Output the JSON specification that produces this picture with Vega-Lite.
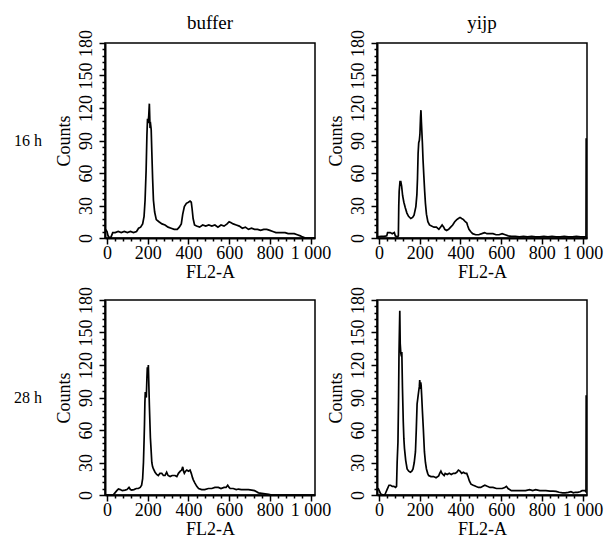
{
  "$schema": "https://vega.github.io/schema/vega-lite/v6.json",
  "padding": {"left": 13, "top": 12, "right": 0, "bottom": 0},
  "background": "white",
  "columns": 3,
  "align": "each",
  "bounds": "flush",
  "spacing": {"row": 62, "column": 62},
  "datasets": {
    "a": [
      {"x": -8, "n": 8}, {"x": 0, "n": 6}, {"x": 5, "n": 2}, {"x": 12, "n": 0}, {"x": 20, "n": 1}, {"x": 28, "n": 5}, {"x": 40, "n": 5}, {"x": 55, "n": 6}, {"x": 70, "n": 5}, {"x": 85, "n": 6}, {"x": 100, "n": 5}, {"x": 115, "n": 6}, {"x": 130, "n": 5}, {"x": 145, "n": 6}, {"x": 155, "n": 9}, {"x": 165, "n": 10}, {"x": 175, "n": 13}, {"x": 182, "n": 20}, {"x": 187, "n": 35}, {"x": 192, "n": 62}, {"x": 196, "n": 95}, {"x": 199, "n": 110}, {"x": 202, "n": 106}, {"x": 205, "n": 113}, {"x": 208, "n": 124}, {"x": 211, "n": 104}, {"x": 214, "n": 105}, {"x": 217, "n": 100}, {"x": 220, "n": 80}, {"x": 224, "n": 55}, {"x": 228, "n": 35}, {"x": 234, "n": 24}, {"x": 242, "n": 17}, {"x": 255, "n": 15}, {"x": 270, "n": 13}, {"x": 285, "n": 12}, {"x": 300, "n": 10}, {"x": 315, "n": 9}, {"x": 330, "n": 8}, {"x": 345, "n": 8}, {"x": 355, "n": 10}, {"x": 365, "n": 13}, {"x": 372, "n": 22}, {"x": 380, "n": 29}, {"x": 390, "n": 32}, {"x": 400, "n": 33}, {"x": 408, "n": 34}, {"x": 414, "n": 33}, {"x": 418, "n": 27}, {"x": 423, "n": 18}, {"x": 430, "n": 12}, {"x": 440, "n": 11}, {"x": 455, "n": 10}, {"x": 470, "n": 12}, {"x": 485, "n": 11}, {"x": 500, "n": 12}, {"x": 515, "n": 11}, {"x": 530, "n": 12}, {"x": 545, "n": 10}, {"x": 560, "n": 12}, {"x": 575, "n": 11}, {"x": 590, "n": 13}, {"x": 600, "n": 15}, {"x": 610, "n": 14}, {"x": 620, "n": 13}, {"x": 635, "n": 12}, {"x": 650, "n": 11}, {"x": 665, "n": 9}, {"x": 680, "n": 10}, {"x": 695, "n": 8}, {"x": 710, "n": 9}, {"x": 725, "n": 8}, {"x": 740, "n": 8}, {"x": 755, "n": 7}, {"x": 770, "n": 8}, {"x": 785, "n": 8}, {"x": 800, "n": 7}, {"x": 815, "n": 6}, {"x": 830, "n": 5}, {"x": 845, "n": 5}, {"x": 860, "n": 5}, {"x": 875, "n": 5}, {"x": 890, "n": 4}, {"x": 905, "n": 4}, {"x": 920, "n": 4}, {"x": 935, "n": 3}, {"x": 950, "n": 2}, {"x": 960, "n": 1}, {"x": 975, "n": 0}, {"x": 990, "n": 0}, {"x": 1005, "n": 0}, {"x": 1020, "n": 0}
    ],
    "b": [
      {"x": -8, "n": 1}, {"x": 10, "n": 1.5}, {"x": 25, "n": 1.5}, {"x": 38, "n": 2}, {"x": 42, "n": 5}, {"x": 55, "n": 5}, {"x": 65, "n": 4}, {"x": 75, "n": 5}, {"x": 80, "n": 2}, {"x": 90, "n": 1}, {"x": 95, "n": 2}, {"x": 97, "n": 30}, {"x": 99, "n": 43}, {"x": 103, "n": 52}, {"x": 107, "n": 52}, {"x": 111, "n": 48}, {"x": 116, "n": 39}, {"x": 122, "n": 33}, {"x": 129, "n": 28}, {"x": 137, "n": 23}, {"x": 145, "n": 20}, {"x": 156, "n": 18}, {"x": 165, "n": 19}, {"x": 172, "n": 21}, {"x": 181, "n": 29}, {"x": 186, "n": 40}, {"x": 189, "n": 55}, {"x": 192, "n": 78}, {"x": 195, "n": 88}, {"x": 198, "n": 90}, {"x": 201, "n": 96}, {"x": 204, "n": 112}, {"x": 206, "n": 118}, {"x": 208, "n": 108}, {"x": 210, "n": 100}, {"x": 213, "n": 88}, {"x": 216, "n": 73}, {"x": 220, "n": 58}, {"x": 224, "n": 44}, {"x": 228, "n": 32}, {"x": 233, "n": 22}, {"x": 240, "n": 15}, {"x": 248, "n": 12}, {"x": 258, "n": 11}, {"x": 270, "n": 10}, {"x": 282, "n": 10}, {"x": 294, "n": 8}, {"x": 302, "n": 10}, {"x": 310, "n": 12}, {"x": 318, "n": 10}, {"x": 323, "n": 8}, {"x": 332, "n": 7}, {"x": 342, "n": 8}, {"x": 352, "n": 10}, {"x": 362, "n": 12}, {"x": 372, "n": 15}, {"x": 382, "n": 17}, {"x": 390, "n": 18}, {"x": 398, "n": 19}, {"x": 406, "n": 18}, {"x": 415, "n": 17}, {"x": 424, "n": 15}, {"x": 431, "n": 14}, {"x": 436, "n": 11}, {"x": 442, "n": 8}, {"x": 450, "n": 6}, {"x": 460, "n": 4}, {"x": 475, "n": 3}, {"x": 490, "n": 3}, {"x": 505, "n": 4}, {"x": 519, "n": 5}, {"x": 530, "n": 4}, {"x": 545, "n": 4}, {"x": 560, "n": 4}, {"x": 575, "n": 3}, {"x": 590, "n": 3}, {"x": 605, "n": 4}, {"x": 620, "n": 3}, {"x": 635, "n": 2}, {"x": 650, "n": 1.5}, {"x": 670, "n": 1.5}, {"x": 690, "n": 1}, {"x": 710, "n": 1.5}, {"x": 730, "n": 1}, {"x": 750, "n": 1.5}, {"x": 770, "n": 1}, {"x": 790, "n": 1}, {"x": 810, "n": 1.5}, {"x": 830, "n": 1}, {"x": 850, "n": 1.5}, {"x": 870, "n": 1}, {"x": 890, "n": 1}, {"x": 910, "n": 1.5}, {"x": 930, "n": 1}, {"x": 950, "n": 1}, {"x": 970, "n": 1.5}, {"x": 990, "n": 1}, {"x": 1010, "n": 1}, {"x": 1017, "n": 1}, {"x": 1018, "n": 92}
    ],
    "c": [
      {"x": -10, "n": 0}, {"x": 10, "n": 0}, {"x": 30, "n": 0}, {"x": 39, "n": 2}, {"x": 48, "n": 4}, {"x": 56, "n": 5.5}, {"x": 65, "n": 5}, {"x": 75, "n": 4}, {"x": 88, "n": 4.5}, {"x": 98, "n": 5}, {"x": 108, "n": 7}, {"x": 115, "n": 5}, {"x": 121, "n": 4.5}, {"x": 132, "n": 5}, {"x": 144, "n": 6}, {"x": 154, "n": 6}, {"x": 163, "n": 7}, {"x": 170, "n": 9}, {"x": 175, "n": 15}, {"x": 179, "n": 30}, {"x": 182, "n": 50}, {"x": 184, "n": 65}, {"x": 186, "n": 85}, {"x": 188, "n": 95}, {"x": 190, "n": 92}, {"x": 193, "n": 90}, {"x": 196, "n": 108}, {"x": 198, "n": 118}, {"x": 201, "n": 112}, {"x": 203, "n": 120}, {"x": 205, "n": 105}, {"x": 208, "n": 83}, {"x": 211, "n": 65}, {"x": 213, "n": 53}, {"x": 217, "n": 40}, {"x": 220, "n": 30}, {"x": 224, "n": 26}, {"x": 228, "n": 24}, {"x": 236, "n": 21}, {"x": 244, "n": 19}, {"x": 252, "n": 18}, {"x": 260, "n": 20}, {"x": 269, "n": 20}, {"x": 277, "n": 18}, {"x": 285, "n": 18}, {"x": 293, "n": 21}, {"x": 300, "n": 18}, {"x": 310, "n": 17}, {"x": 320, "n": 18}, {"x": 334, "n": 18}, {"x": 343, "n": 17}, {"x": 351, "n": 20}, {"x": 360, "n": 22}, {"x": 367, "n": 23}, {"x": 372, "n": 26}, {"x": 376, "n": 22}, {"x": 380, "n": 20}, {"x": 386, "n": 22}, {"x": 392, "n": 23}, {"x": 400, "n": 22}, {"x": 408, "n": 23}, {"x": 414, "n": 20}, {"x": 420, "n": 16}, {"x": 424, "n": 14}, {"x": 432, "n": 11}, {"x": 441, "n": 8}, {"x": 450, "n": 6}, {"x": 465, "n": 5}, {"x": 480, "n": 5}, {"x": 498, "n": 6}, {"x": 515, "n": 6}, {"x": 530, "n": 7}, {"x": 547, "n": 7}, {"x": 560, "n": 6}, {"x": 575, "n": 7}, {"x": 585, "n": 7}, {"x": 593, "n": 9}, {"x": 600, "n": 7}, {"x": 605, "n": 6}, {"x": 620, "n": 6}, {"x": 635, "n": 5}, {"x": 646, "n": 5.5}, {"x": 660, "n": 5}, {"x": 679, "n": 5}, {"x": 695, "n": 5}, {"x": 711, "n": 4.5}, {"x": 725, "n": 4}, {"x": 735, "n": 3}, {"x": 744, "n": 2}, {"x": 760, "n": 1.5}, {"x": 777, "n": 1}, {"x": 795, "n": 0.5}, {"x": 810, "n": 0}, {"x": 850, "n": 0}, {"x": 900, "n": 0}, {"x": 950, "n": 0}, {"x": 1000, "n": 0}, {"x": 1020, "n": 0}
    ],
    "d": [
      {"x": -10, "n": 5}, {"x": -3, "n": 5.6}, {"x": 8, "n": 1}, {"x": 20, "n": 0}, {"x": 28, "n": 0}, {"x": 35, "n": 3}, {"x": 41, "n": 5.6}, {"x": 49, "n": 9}, {"x": 57, "n": 9}, {"x": 65, "n": 8}, {"x": 73, "n": 8}, {"x": 81, "n": 7}, {"x": 86, "n": 8}, {"x": 89, "n": 30}, {"x": 93, "n": 49}, {"x": 96, "n": 90}, {"x": 98, "n": 129}, {"x": 100, "n": 150}, {"x": 102, "n": 170}, {"x": 104, "n": 140}, {"x": 107, "n": 131}, {"x": 110, "n": 128}, {"x": 112, "n": 132}, {"x": 115, "n": 100}, {"x": 119, "n": 68}, {"x": 122, "n": 52}, {"x": 125, "n": 43}, {"x": 131, "n": 32}, {"x": 138, "n": 24}, {"x": 146, "n": 22}, {"x": 154, "n": 21}, {"x": 161, "n": 22}, {"x": 167, "n": 24}, {"x": 173, "n": 30}, {"x": 179, "n": 40}, {"x": 183, "n": 60}, {"x": 187, "n": 84}, {"x": 191, "n": 90}, {"x": 195, "n": 96}, {"x": 198, "n": 100}, {"x": 200, "n": 106}, {"x": 203, "n": 98}, {"x": 205, "n": 104}, {"x": 207, "n": 101}, {"x": 210, "n": 90}, {"x": 213, "n": 78}, {"x": 218, "n": 60}, {"x": 223, "n": 40}, {"x": 228, "n": 30}, {"x": 233, "n": 24}, {"x": 239, "n": 20}, {"x": 244, "n": 18}, {"x": 255, "n": 17}, {"x": 268, "n": 17}, {"x": 280, "n": 16}, {"x": 293, "n": 17.5}, {"x": 298, "n": 20}, {"x": 304, "n": 22}, {"x": 309, "n": 20}, {"x": 314, "n": 19}, {"x": 320, "n": 18}, {"x": 325, "n": 20}, {"x": 335, "n": 19}, {"x": 345, "n": 20}, {"x": 355, "n": 19}, {"x": 365, "n": 20}, {"x": 374, "n": 20}, {"x": 382, "n": 21}, {"x": 390, "n": 23}, {"x": 398, "n": 22}, {"x": 406, "n": 20}, {"x": 415, "n": 21}, {"x": 423, "n": 20}, {"x": 431, "n": 20}, {"x": 437, "n": 17}, {"x": 444, "n": 13}, {"x": 452, "n": 10}, {"x": 463, "n": 9}, {"x": 475, "n": 8}, {"x": 488, "n": 7}, {"x": 500, "n": 7}, {"x": 510, "n": 8}, {"x": 520, "n": 9}, {"x": 532, "n": 8}, {"x": 545, "n": 7}, {"x": 560, "n": 7}, {"x": 577, "n": 6}, {"x": 590, "n": 6}, {"x": 605, "n": 6}, {"x": 618, "n": 7}, {"x": 626, "n": 8}, {"x": 634, "n": 6}, {"x": 650, "n": 4}, {"x": 665, "n": 4}, {"x": 680, "n": 4}, {"x": 695, "n": 4}, {"x": 707, "n": 4}, {"x": 720, "n": 4}, {"x": 740, "n": 5}, {"x": 755, "n": 4}, {"x": 770, "n": 5}, {"x": 790, "n": 4}, {"x": 805, "n": 4}, {"x": 820, "n": 4}, {"x": 840, "n": 3.5}, {"x": 855, "n": 3.5}, {"x": 870, "n": 3.4}, {"x": 885, "n": 2.5}, {"x": 902, "n": 2}, {"x": 915, "n": 2}, {"x": 930, "n": 2.5}, {"x": 943, "n": 3}, {"x": 955, "n": 2}, {"x": 965, "n": 2.5}, {"x": 976, "n": 2.5}, {"x": 988, "n": 3}, {"x": 998, "n": 4}, {"x": 1012, "n": 4}, {"x": 1017, "n": 3}, {"x": 1018, "n": 92}
    ]
  },
  "concat": [
    {
      "width": 30, "height": 195, "view": {"stroke": null},
      "data": {"values": [{"t": "16 h"}]},
      "mark": {"type": "text", "font": "Liberation Serif", "fontSize": 16, "color": "black"},
      "encoding": {"text": {"field": "t"}}
    },
    {
      "width": 210, "height": 195,
      "title": {"text": "buffer"},
      "data": {"name": "a"},
      "mark": {"type": "line", "color": "black", "strokeWidth": 1.7},
      "encoding": {
        "x": {"field": "x", "type": "quantitative", "scale": {"domain": [-10, 1022], "nice": false, "zero": false},
              "axis": {"values": [0,40,80,120,160,200,240,280,320,360,400,440,480,520,560,600,640,680,720,760,800,840,880,920,960,1000], "title": "FL2-A", "labelExpr": "datum.value % 200 === 0 ? (datum.value === 1000 ? '1 000' : datum.label) : ''", "tickSize": {"condition": {"test": "datum.value % 200 === 0", "value": 6}, "value": 3}, "labelPadding": 0, "labelFlush": false, "labelOverlap": false, "titlePadding": 1, "labelFont": "Liberation Serif", "labelFontSize": 18, "titleFont": "Liberation Serif", "titleFontSize": 18}},
        "y": {"field": "n", "type": "quantitative", "scale": {"domain": [0, 180], "nice": false},
              "axis": {"values": [0,6,12,18,24,30,36,42,48,54,60,66,72,78,84,90,96,102,108,114,120,126,132,138,144,150,156,162,168,174,180], "title": "Counts", "labelExpr": "datum.value % 30 === 0 ? datum.label : ''", "labelAngle": -90, "tickSize": {"condition": {"test": "datum.value % 30 === 0", "value": 6}, "value": 3}, "labelPadding": 4, "labelOverlap": false, "titlePadding": 4, "labelFont": "Liberation Serif", "labelFontSize": 18, "titleFont": "Liberation Serif", "titleFontSize": 18}}
      }
    },
    {
      "width": 210, "height": 195,
      "title": {"text": "yijp"},
      "data": {"name": "b"},
      "mark": {"type": "line", "color": "black", "strokeWidth": 1.7},
      "encoding": {
        "x": {"field": "x", "type": "quantitative", "scale": {"domain": [-10, 1022], "nice": false, "zero": false},
              "axis": {"values": [0,40,80,120,160,200,240,280,320,360,400,440,480,520,560,600,640,680,720,760,800,840,880,920,960,1000], "title": "FL2-A", "labelExpr": "datum.value % 200 === 0 ? (datum.value === 1000 ? '1 000' : datum.label) : ''", "tickSize": {"condition": {"test": "datum.value % 200 === 0", "value": 6}, "value": 3}, "labelPadding": 0, "labelFlush": false, "labelOverlap": false, "titlePadding": 1, "labelFont": "Liberation Serif", "labelFontSize": 18, "titleFont": "Liberation Serif", "titleFontSize": 18}},
        "y": {"field": "n", "type": "quantitative", "scale": {"domain": [0, 180], "nice": false},
              "axis": {"values": [0,6,12,18,24,30,36,42,48,54,60,66,72,78,84,90,96,102,108,114,120,126,132,138,144,150,156,162,168,174,180], "title": "Counts", "labelExpr": "datum.value % 30 === 0 ? datum.label : ''", "labelAngle": -90, "tickSize": {"condition": {"test": "datum.value % 30 === 0", "value": 6}, "value": 3}, "labelPadding": 4, "labelOverlap": false, "titlePadding": 4, "labelFont": "Liberation Serif", "labelFontSize": 18, "titleFont": "Liberation Serif", "titleFontSize": 18}}
      }
    },
    {
      "width": 30, "height": 195, "view": {"stroke": null},
      "data": {"values": [{"t": "28 h"}]},
      "mark": {"type": "text", "font": "Liberation Serif", "fontSize": 16, "color": "black"},
      "encoding": {"text": {"field": "t"}}
    },
    {
      "width": 210, "height": 195,
      "data": {"name": "c"},
      "mark": {"type": "line", "color": "black", "strokeWidth": 1.7},
      "encoding": {
        "x": {"field": "x", "type": "quantitative", "scale": {"domain": [-10, 1022], "nice": false, "zero": false},
              "axis": {"values": [0,40,80,120,160,200,240,280,320,360,400,440,480,520,560,600,640,680,720,760,800,840,880,920,960,1000], "title": "FL2-A", "labelExpr": "datum.value % 200 === 0 ? (datum.value === 1000 ? '1 000' : datum.label) : ''", "tickSize": {"condition": {"test": "datum.value % 200 === 0", "value": 6}, "value": 3}, "labelPadding": 0, "labelFlush": false, "labelOverlap": false, "titlePadding": 1, "labelFont": "Liberation Serif", "labelFontSize": 18, "titleFont": "Liberation Serif", "titleFontSize": 18}},
        "y": {"field": "n", "type": "quantitative", "scale": {"domain": [0, 180], "nice": false},
              "axis": {"values": [0,6,12,18,24,30,36,42,48,54,60,66,72,78,84,90,96,102,108,114,120,126,132,138,144,150,156,162,168,174,180], "title": "Counts", "labelExpr": "datum.value % 30 === 0 ? datum.label : ''", "labelAngle": -90, "tickSize": {"condition": {"test": "datum.value % 30 === 0", "value": 6}, "value": 3}, "labelPadding": 4, "labelOverlap": false, "titlePadding": 4, "labelFont": "Liberation Serif", "labelFontSize": 18, "titleFont": "Liberation Serif", "titleFontSize": 18}}
      }
    },
    {
      "width": 210, "height": 195,
      "data": {"name": "d"},
      "mark": {"type": "line", "color": "black", "strokeWidth": 1.7},
      "encoding": {
        "x": {"field": "x", "type": "quantitative", "scale": {"domain": [-10, 1022], "nice": false, "zero": false},
              "axis": {"values": [0,40,80,120,160,200,240,280,320,360,400,440,480,520,560,600,640,680,720,760,800,840,880,920,960,1000], "title": "FL2-A", "labelExpr": "datum.value % 200 === 0 ? (datum.value === 1000 ? '1 000' : datum.label) : ''", "tickSize": {"condition": {"test": "datum.value % 200 === 0", "value": 6}, "value": 3}, "labelPadding": 0, "labelFlush": false, "labelOverlap": false, "titlePadding": 1, "labelFont": "Liberation Serif", "labelFontSize": 18, "titleFont": "Liberation Serif", "titleFontSize": 18}},
        "y": {"field": "n", "type": "quantitative", "scale": {"domain": [0, 180], "nice": false},
              "axis": {"values": [0,6,12,18,24,30,36,42,48,54,60,66,72,78,84,90,96,102,108,114,120,126,132,138,144,150,156,162,168,174,180], "title": "Counts", "labelExpr": "datum.value % 30 === 0 ? datum.label : ''", "labelAngle": -90, "tickSize": {"condition": {"test": "datum.value % 30 === 0", "value": 6}, "value": 3}, "labelPadding": 4, "labelOverlap": false, "titlePadding": 4, "labelFont": "Liberation Serif", "labelFontSize": 18, "titleFont": "Liberation Serif", "titleFontSize": 18}}
      }
    }
  ],
  "config": {
    "font": "Liberation Serif",
    "view": {"stroke": "black", "strokeWidth": 1.5},
    "axis": {"grid": false, "domainColor": "black", "domainWidth": 2, "tickColor": "black", "tickWidth": 1.5, "labelColor": "black", "titleColor": "black", "titleFontWeight": "normal"},
    "title": {"font": "Liberation Serif", "fontSize": 19, "fontWeight": "normal", "color": "black", "frame": "group", "offset": -3}
  }
}
